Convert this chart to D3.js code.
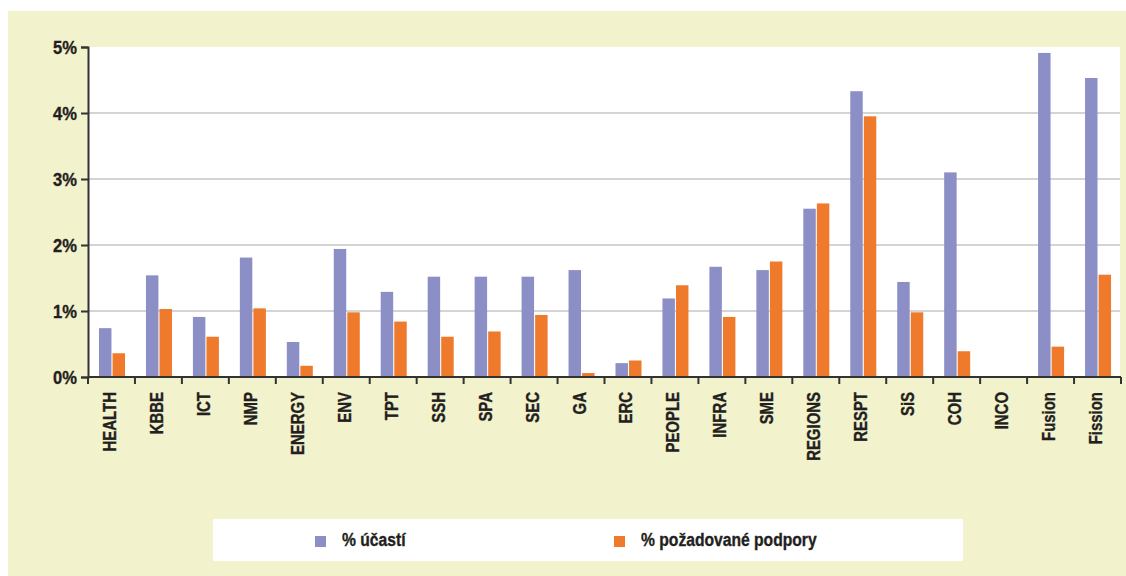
<!DOCTYPE html>
<html>
<head>
<meta charset="utf-8">
<script src="https://cdn.jsdelivr.net/npm/d3@7"></script>
<style>
  html, body { margin: 0; padding: 0; background: #ffffff; }
  svg { display: block; }
  text { font-family: "Liberation Sans", Arial, sans-serif; font-weight: bold; fill: #231f20; stroke: #231f20; stroke-width: 0.35px; }
</style>
</head>
<body>
<svg id="chart" width="1126" height="576"></svg>
<script>
// Programme areas (FP7) and the two shares per area, in percent
const categories = ["HEALTH", "KBBE", "ICT", "NMP", "ENERGY", "ENV", "TPT", "SSH", "SPA", "SEC",
  "GA", "ERC", "PEOPLE", "INFRA", "SME", "REGIONS", "RESPT", "SiS", "COH", "INCO", "Fusion", "Fission"];
const participation = [0.74, 1.54, 0.91, 1.81, 0.53, 1.94, 1.29, 1.52, 1.52, 1.52,
  1.62, 0.21, 1.19, 1.67, 1.62, 2.55, 4.33, 1.44, 3.10, 0, 4.91, 4.53];
const requested = [0.36, 1.03, 0.61, 1.04, 0.17, 0.98, 0.84, 0.61, 0.69, 0.94,
  0.06, 0.25, 1.39, 0.91, 1.75, 2.63, 3.95, 0.98, 0.39, 0, 0.46, 1.55];
const seriesNames = ["% účastí", "% požadované podpory"];
const yTicks = [0, 1, 2, 3, 4, 5];

const colors = ["#8c8fc6", "#ef7a2b"];
const svg = d3.select("#chart");

// beige page panel
svg.append("rect").attr("x", 8).attr("y", 11).attr("width", 1118).attr("height", 565).attr("fill", "#f2f2cc");

const plotLeft = 88, plotRight = 1121, plotTop = 47, plotBottom = 377;

const x = d3.scaleBand().domain(categories).range([plotLeft, plotRight]).paddingInner(0).paddingOuter(0);
const x1 = d3.scaleBand().domain([0, 1]).range([11, 37]).paddingInner(0.08);
const y = d3.scaleLinear().domain([0, 5]).range([plotBottom, plotTop]);

// white plotting area
svg.append("rect").attr("x", plotLeft).attr("y", plotTop).attr("width", 1120 - plotLeft)
  .attr("height", plotBottom - plotTop).attr("fill", "#ffffff");

// horizontal gridlines
svg.append("g").selectAll("line").data(yTicks.filter(t => t > 0 && t < 5)).join("line")
  .attr("x1", plotLeft).attr("x2", 1120)
  .attr("y1", d => y(d)).attr("y2", d => y(d))
  .attr("stroke", "#c6c6c6").attr("stroke-width", 1.5);

// bars
const groups = svg.append("g").selectAll("g").data(categories).join("g")
  .attr("transform", d => `translate(${x(d)},0)`);
groups.selectAll("rect").data((d, i) => [participation[i], requested[i]]).join("rect")
  .attr("x", (d, j) => x1(j))
  .attr("width", x1.bandwidth())
  .attr("y", d => y(d))
  .attr("height", d => plotBottom - y(d))
  .attr("fill", (d, j) => colors[j]);

// y axis
const yAxis = d3.axisLeft(y).tickValues(yTicks).tickFormat(d => d + "%").tickSize(7).tickPadding(4);
const gy = svg.append("g").attr("transform", `translate(${plotLeft},0)`).call(yAxis);
gy.select(".domain").attr("stroke", "#333").attr("stroke-width", 2);
gy.selectAll(".tick line").attr("stroke", "#333").attr("stroke-width", 2);
gy.selectAll(".tick text")
  .attr("x", null).attr("dy", null)
  .attr("transform", "translate(-11,0) scale(0.92,1)")
  .attr("y", 6.5)
  .attr("font-size", 18)
  .style("font-family", "'Liberation Sans', Arial, sans-serif").style("font-weight", "bold")
  .attr("fill", "#231f20").attr("stroke", "#231f20").attr("stroke-width", 0.35);

// x axis: ticks at band boundaries
const gx = svg.append("g").attr("transform", `translate(0,${plotBottom})`);
gx.append("line").attr("x1", plotLeft).attr("x2", plotRight).attr("y1", 0).attr("y2", 0)
  .attr("stroke", "#333").attr("stroke-width", 2);
const boundaries = categories.map(c => x(c)).concat([plotRight]);
gx.selectAll("line.tk").data(boundaries).join("line").attr("class", "tk")
  .attr("x1", d => d).attr("x2", d => d).attr("y1", 0).attr("y2", 7)
  .attr("stroke", "#333").attr("stroke-width", 2);
gx.selectAll("text").data(categories).join("text")
  .attr("transform", d => `translate(${x(d) + x.bandwidth() / 2 - 2},15) rotate(-90) scale(0.83,1)`)
  .attr("text-anchor", "end").attr("dy", "0.36em")
  .attr("font-size", 18)
  .text(d => d);

// legend
const lg = svg.append("g");
lg.append("rect").attr("x", 213).attr("y", 519).attr("width", 750).attr("height", 42).attr("fill", "#ffffff");
const legendX = [315, 614];
seriesNames.forEach((name, i) => {
  lg.append("rect").attr("x", legendX[i]).attr("y", 536).attr("width", 11).attr("height", 11).attr("fill", colors[i]);
  lg.append("text").attr("transform", `translate(${legendX[i] + 27},546) scale(0.87,1)`)
    .attr("font-size", 18).text(name);
});
</script>
</body>
</html>
